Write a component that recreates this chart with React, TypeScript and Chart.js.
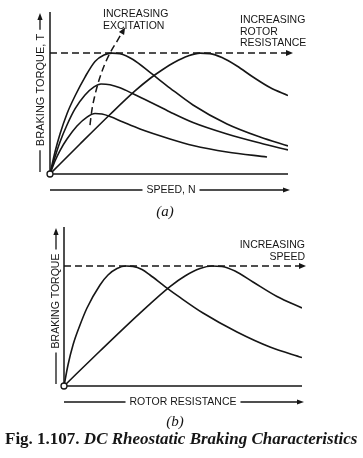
import React, { useEffect, useRef } from "react";
import { Chart, registerables } from "chart.js";
Chart.register(...registerables);

const W = 363;
const H = 458;
const ink = "#161616";

// ---------- (a) Braking torque T vs speed N ----------
const speedHighExc = [0, 2.1, 4.2, 7.14, 10.5, 14.71, 18.91, 22.69, 26.05, 29.41, 34.87, 42.02, 50.42, 60.08, 74.37, 88.24, 100];
const torqueHighExc = [0, 0.182, 0.331, 0.499, 0.645, 0.802, 0.931, 0.984, 1.0, 0.995, 0.947, 0.84, 0.711, 0.571, 0.414, 0.306, 0.232];
const speedMidExc = [0, 2.1, 4.2, 7.14, 10.5, 14.71, 18.49, 21.43, 25.21, 29.41, 34.87, 42.02, 50.42, 60.08, 74.37, 88.24, 100];
const torqueMidExc = [0, 0.141, 0.265, 0.405, 0.538, 0.653, 0.72, 0.744, 0.738, 0.713, 0.664, 0.596, 0.513, 0.426, 0.331, 0.256, 0.199];
const speedLowExc = [0, 2.1, 4.2, 7.14, 11.34, 15.55, 18.91, 21.85, 25.21, 30.67, 37.82, 50.42, 60.08, 74.37, 91.18];
const torqueLowExc = [0, 0.108, 0.194, 0.289, 0.397, 0.471, 0.5, 0.496, 0.476, 0.43, 0.372, 0.29, 0.236, 0.182, 0.141];
const speedHighRes = [0, 12.61, 25.21, 35.71, 42.02, 47.06, 52.52, 57.98, 63.03, 67.23, 72.27, 78.57, 85.29, 92.44, 100];
const torqueHighRes = [0, 0.248, 0.492, 0.687, 0.79, 0.86, 0.926, 0.976, 1.0, 0.996, 0.963, 0.893, 0.802, 0.715, 0.649];
const speedPeakLocus = [16.8, 17.6, 18.9, 20.6, 22.7, 25.2, 28.2, 30.9];
const torquePeakLocus = [0.405, 0.529, 0.653, 0.777, 0.893, 1.0, 1.1, 1.19];
const maxTorqueA = 1;

// ---------- (b) Braking torque vs rotor resistance ----------
const resLowSpeed = [0, 1.68, 3.78, 6.72, 9.66, 15.13, 18.49, 22.27, 26.05, 28.99, 32.77, 36.13, 42.44, 48.74, 58.4, 72.69, 86.55, 100];
const torqueLowSpeed = [0, 0.175, 0.342, 0.508, 0.65, 0.842, 0.925, 0.979, 1.0, 0.997, 0.971, 0.925, 0.829, 0.738, 0.608, 0.45, 0.325, 0.2375];
const resHighSpeed = [0, 15.13, 31.93, 44.54, 50.84, 57.14, 62.18, 66.39, 71.85, 79.41, 89.5, 100];
const torqueHighSpeed = [0, 0.292, 0.608, 0.829, 0.917, 0.979, 1.0, 0.996, 0.958, 0.867, 0.746, 0.65];
const maxTorqueB = 1;

const pts = (xs: number[], ys: number[]) => xs.map((x, i) => ({ x, y: ys[i] }));

const labelFont = '10.5px "Liberation Sans", Arial, sans-serif';

function arrowHead(ctx: CanvasRenderingContext2D, x: number, y: number, angle: number, len = 7, half = 3) {
  ctx.save();
  ctx.translate(x, y);
  ctx.rotate(angle);
  ctx.beginPath();
  ctx.moveTo(0, 0);
  ctx.lineTo(-len, -half);
  ctx.lineTo(-len, half);
  ctx.closePath();
  ctx.fill();
  ctx.restore();
}

const schematic = {
  id: "schematic",
  beforeDatasetsDraw(chart: any) {
    const { ctx, chartArea } = chart;
    const { left, right, top, bottom } = chartArea;
    ctx.save();
    ctx.strokeStyle = ink;
    ctx.lineWidth = 1.5;
    ctx.beginPath();
    ctx.moveTo(left, top);
    ctx.lineTo(left, bottom);
    ctx.lineTo(right, bottom);
    ctx.stroke();
    ctx.restore();
  },
  afterDatasetsDraw(chart: any, _args: any, opts: any) {
    const { ctx, chartArea, scales } = chart;
    const { left, right, top, bottom } = chartArea;
    ctx.save();
    ctx.fillStyle = ink;
    ctx.strokeStyle = ink;

    // arrowhead on dashed level line
    const yl = scales.y.getPixelForValue(opts.level);
    arrowHead(ctx, right + opts.levelArrow, yl, 0, 7, 3);

    // arrowhead on locus
    if (opts.locusIndex != null) {
      const d = chart.getDatasetMeta(opts.locusIndex).data;
      const p1 = d[d.length - 1];
      const p0 = d[d.length - 2];
      const ang = Math.atan2(p1.y - p0.y, p1.x - p0.x);
      arrowHead(ctx, p1.x + Math.cos(ang) * 3, p1.y + Math.sin(ang) * 3, ang, 7, 3);
    }

    // origin circle
    ctx.beginPath();
    ctx.arc(left, bottom, 3, 0, Math.PI * 2);
    ctx.fillStyle = "#fff";
    ctx.fill();
    ctx.lineWidth = 1.3;
    ctx.stroke();
    ctx.fillStyle = ink;

    ctx.font = labelFont;
    ctx.lineWidth = 1.3;

    // y axis label with arrow
    ctx.save();
    ctx.font = opts.yFont;
    const yw = ctx.measureText(opts.yLabel).width;
    ctx.translate(opts.yLabelX, opts.yLabelY);
    ctx.rotate(-Math.PI / 2);
    ctx.textAlign = "center";
    ctx.textBaseline = "middle";
    ctx.fillText(opts.yLabel, 0, 0.5);
    ctx.restore();
    ctx.beginPath();
    ctx.moveTo(opts.yLabelX, opts.yLabelY - yw / 2 - 4);
    ctx.lineTo(opts.yLabelX, top + 4);
    ctx.moveTo(opts.yLabelX, opts.yLabelY + yw / 2 + 4);
    ctx.lineTo(opts.yLabelX, bottom - 2);
    ctx.stroke();
    arrowHead(ctx, opts.yLabelX, top + 1, -Math.PI / 2, 7, 2.6);

    // x axis label with arrow
    ctx.font = labelFont;
    const xw = ctx.measureText(opts.xLabel).width;
    ctx.textAlign = "center";
    ctx.textBaseline = "middle";
    ctx.fillText(opts.xLabel, opts.xLabelX, opts.xLabelY);
    ctx.beginPath();
    ctx.moveTo(left, opts.xLabelY);
    ctx.lineTo(opts.xLabelX - xw / 2 - 4, opts.xLabelY);
    ctx.moveTo(opts.xLabelX + xw / 2 + 4, opts.xLabelY);
    ctx.lineTo(right - 2, opts.xLabelY);
    ctx.stroke();
    arrowHead(ctx, right + 2, opts.xLabelY, 0, 7, 2.6);

    // notes
    for (const n of opts.notes) {
      ctx.textAlign = n.align;
      ctx.textBaseline = "middle";
      n.lines.forEach((t: string, i: number) => ctx.fillText(t, n.x, n.y + i * 11.8));
    }
    ctx.restore();
  },
};

const solid = (data: any[]) => ({
  data,
  borderColor: ink,
  borderWidth: 1.6,
  pointRadius: 0,
  fill: false,
  cubicInterpolationMode: "monotone" as const,
});

const dashed = (data: any[]) => ({
  data,
  borderColor: ink,
  borderWidth: 1.5,
  borderDash: [7, 4],
  pointRadius: 0,
  fill: false,
  cubicInterpolationMode: "monotone" as const,
});

function configA() {
  return {
    type: "line" as const,
    data: {
      datasets: [
        dashed([{ x: 0, y: maxTorqueA }, { x: 100, y: maxTorqueA }]),
        solid(pts(speedHighExc, torqueHighExc)),
        solid(pts(speedMidExc, torqueMidExc)),
        solid(pts(speedLowExc, torqueLowExc)),
        solid(pts(speedHighRes, torqueHighRes)),
        dashed(pts(speedPeakLocus, torquePeakLocus)),
      ],
    },
    options: {
      responsive: false,
      animation: false as const,
      devicePixelRatio: 1,
      layout: { padding: { left: 50, right: 75, top: 12, bottom: 284 } },
      scales: {
        x: { type: "linear" as const, min: 0, max: 100, display: false },
        y: { type: "linear" as const, min: 0, max: 1.34, display: false },
      },
      plugins: {
        legend: { display: false },
        tooltip: { enabled: false },
        schematic: {
          level: maxTorqueA,
          levelArrow: 5,
          locusIndex: 5,
          yLabel: "BRAKING TORQUE, T",
          yFont: '11px "Liberation Sans", Arial, sans-serif',
          yLabelX: 40,
          yLabelY: 90,
          xLabel: "SPEED, N",
          xLabelX: 171,
          xLabelY: 190,
          notes: [
            { lines: ["INCREASING", "EXCITATION"], x: 103, y: 14, align: "left" },
            { lines: ["INCREASING", "ROTOR", "RESISTANCE"], x: 240, y: 20, align: "left" },
          ],
        },
      },
    },
    plugins: [schematic],
  };
}

function configB() {
  return {
    type: "line" as const,
    data: {
      datasets: [
        dashed([{ x: 0, y: maxTorqueB }, { x: 100, y: maxTorqueB }]),
        solid(pts(resLowSpeed, torqueLowSpeed)),
        solid(pts(resHighSpeed, torqueHighSpeed)),
      ],
    },
    options: {
      responsive: false,
      animation: false as const,
      devicePixelRatio: 1,
      layout: { padding: { left: 64, right: 61, top: 227, bottom: 72 } },
      scales: {
        x: { type: "linear" as const, min: 0, max: 100, display: false },
        y: { type: "linear" as const, min: 0, max: 1.325, display: false },
      },
      plugins: {
        legend: { display: false },
        tooltip: { enabled: false },
        schematic: {
          level: maxTorqueB,
          levelArrow: 4,
          locusIndex: null,
          yLabel: "BRAKING TORQUE",
          yFont: labelFont,
          yLabelX: 56,
          yLabelY: 301,
          xLabel: "ROTOR RESISTANCE",
          xLabelX: 183,
          xLabelY: 402,
          notes: [{ lines: ["INCREASING", "SPEED"], x: 305, y: 245, align: "right" }],
        },
      },
    },
    plugins: [schematic],
  };
}

function SchematicChart({ make }: { make: () => any }) {
  const ref = useRef<HTMLCanvasElement | null>(null);
  useEffect(() => {
    const chart = new Chart(ref.current as HTMLCanvasElement, make());
    return () => chart.destroy();
  }, []);
  return (
    <canvas
      ref={ref}
      width={W}
      height={H}
      style={{ position: "absolute", left: 0, top: 0, width: W, height: H }}
    />
  );
}

export default function App() {
  const serif = '"Liberation Serif", "Times New Roman", serif';
  return (
    <div style={{ position: "relative", width: W, height: H, background: "#fff", overflow: "hidden" }}>
      <style>{`body{margin:0;background:#fff}`}</style>
      <SchematicChart make={configA} />
      <SchematicChart make={configB} />
      <div
        style={{
          position: "absolute", left: 0, width: 330, top: 202, textAlign: "center",
          font: `italic 15px ${serif}`, color: ink, lineHeight: "18px",
        }}
      >
        (a)
      </div>
      <div
        style={{
          position: "absolute", left: 0, width: 350, top: 412, textAlign: "center",
          font: `italic 15px ${serif}`, color: ink, lineHeight: "18px",
        }}
      >
        (b)
      </div>
      <div
        style={{
          position: "absolute", left: 5, top: 429, whiteSpace: "nowrap",
          font: `bold 17px ${serif}`, color: ink, lineHeight: "19px",
        }}
      >
        Fig. 1.107. <i>DC Rheostatic Braking Characteristics</i>
      </div>
    </div>
  );
}
